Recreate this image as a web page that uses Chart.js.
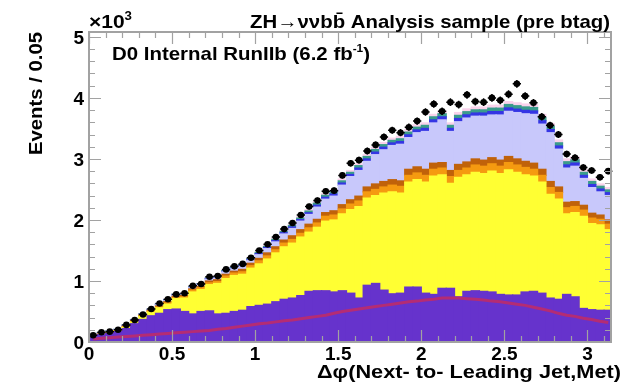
<!DOCTYPE html>
<html>
<head>
<meta charset="utf-8">
<script src="https://cdn.jsdelivr.net/npm/chart.js@4.4.1/dist/chart.umd.min.js"></script>
<style>
  html, body { margin: 0; padding: 0; background: #ffffff; }
  #c { display: block; }
</style>
</head>
<body>
<canvas id="c" width="625" height="384"></canvas>
<script>
// Delta-phi bins (0.05 wide), values in units of 10^3 events per bin
const binCenters = [0.025,0.075,0.125,0.175,0.225,0.275,0.325,0.375,0.425,0.475,
  0.525,0.575,0.625,0.675,0.725,0.775,0.825,0.875,0.925,0.975,
  1.025,1.075,1.125,1.175,1.225,1.275,1.325,1.375,1.425,1.475,
  1.525,1.575,1.625,1.675,1.725,1.775,1.825,1.875,1.925,1.975,
  2.025,2.075,2.125,2.175,2.225,2.275,2.325,2.375,2.425,2.475,
  2.525,2.575,2.625,2.675,2.725,2.775,2.825,2.875,2.925,2.975,
  3.025,3.075,3.125];

const dataObs = [0.11,0.16,0.17,0.20,0.28,0.36,0.45,0.54,0.63,0.70,
  0.78,0.80,0.92,0.95,1.07,1.08,1.19,1.24,1.28,1.38,
  1.50,1.60,1.72,1.85,1.95,2.08,2.22,2.32,2.47,2.48,
  2.73,2.93,2.98,3.13,3.23,3.36,3.47,3.43,3.52,3.62,
  3.77,3.90,3.78,3.93,3.89,4.05,3.94,3.93,4.00,3.96,
  4.06,4.23,4.03,3.92,3.69,3.55,3.40,3.08,3.02,2.86,
  2.81,2.70,2.80];

// stacked backgrounds, bottom to top
const bkgLine = [0.05,0.06,0.07,0.08,0.09,0.10,0.11,0.12,0.13,0.14,
  0.15,0.16,0.17,0.18,0.19,0.21,0.22,0.24,0.26,0.28,
  0.30,0.31,0.33,0.35,0.36,0.38,0.40,0.42,0.44,0.47,
  0.50,0.52,0.54,0.56,0.58,0.60,0.62,0.64,0.66,0.67,
  0.69,0.70,0.72,0.72,0.72,0.71,0.70,0.69,0.67,0.66,
  0.64,0.62,0.60,0.57,0.54,0.51,0.47,0.44,0.42,0.39,
  0.37,0.34,0.32];

const bkgPurple = [0.04,0.06,0.07,0.09,0.13,0.20,0.26,0.31,0.34,0.39,
  0.39,0.34,0.29,0.32,0.32,0.25,0.25,0.26,0.26,0.30,
  0.30,0.31,0.33,0.35,0.36,0.38,0.43,0.42,0.40,0.35,
  0.34,0.28,0.18,0.37,0.38,0.25,0.17,0.16,0.24,0.23,
  0.11,0.08,0.16,0.16,0.02,0.12,0.14,0.14,0.15,0.12,
  0.13,0.15,0.22,0.26,0.26,0.21,0.23,0.34,0.32,0.16,
  0.16,0.18,0.20];

const bkgYellow = [0.00,0.00,0.01,0.01,0.02,0.03,0.05,0.06,0.09,0.09,
  0.17,0.22,0.36,0.36,0.43,0.50,0.57,0.59,0.59,0.63,
  0.68,0.74,0.80,0.86,0.90,0.96,0.97,1.04,1.14,1.18,
  1.26,1.37,1.50,1.43,1.44,1.59,1.67,1.64,1.72,1.76,
  1.82,1.94,1.86,1.72,1.96,1.91,1.94,1.93,1.98,1.98,
  2.05,2.01,1.92,1.89,1.82,1.70,1.64,1.32,1.38,1.51,
  1.41,1.40,1.32];

const bkgOrange = [0.005,0.005,0.005,0.005,0.01,0.01,0.01,0.015,0.015,0.02,
  0.02,0.02,0.03,0.03,0.03,0.03,0.04,0.04,0.04,0.04,
  0.05,0.05,0.05,0.06,0.06,0.06,0.07,0.07,0.08,0.08,
  0.08,0.09,0.09,0.10,0.10,0.10,0.11,0.11,0.11,0.11,
  0.11,0.11,0.11,0.11,0.11,0.11,0.12,0.12,0.12,0.12,
  0.12,0.12,0.12,0.11,0.11,0.11,0.11,0.10,0.10,0.10,
  0.09,0.09,0.09];

const bkgBrown = [0.005,0.005,0.005,0.005,0.01,0.01,0.01,0.015,0.015,0.02,
  0.02,0.02,0.02,0.02,0.03,0.03,0.03,0.03,0.04,0.04,
  0.04,0.05,0.05,0.05,0.06,0.06,0.06,0.06,0.06,0.07,
  0.07,0.07,0.08,0.08,0.09,0.09,0.09,0.09,0.10,0.10,
  0.10,0.10,0.09,0.10,0.10,0.10,0.10,0.10,0.10,0.10,
  0.10,0.10,0.10,0.10,0.10,0.10,0.09,0.09,0.08,0.08,
  0.08,0.07,0.07];

const bkgLavender = [0.01,0.01,0.01,0.01,0.01,0.01,0.01,0.01,0.02,0.02,
  0.02,0.02,0.02,0.03,0.03,0.03,0.04,0.04,0.05,0.05,
  0.06,0.07,0.08,0.10,0.12,0.14,0.16,0.20,0.22,0.24,
  0.32,0.38,0.42,0.42,0.48,0.52,0.56,0.60,0.52,0.56,
  0.62,0.66,0.70,0.64,0.70,0.72,0.70,0.72,0.70,0.74,
  0.74,0.76,0.78,0.80,0.74,0.80,0.62,0.56,0.58,0.44,
  0.42,0.38,0.40];

const bkgBlue = [0.004,0.004,0.004,0.004,0.004,0.004,0.004,0.004,0.007,0.007,
  0.007,0.007,0.007,0.007,0.010,0.010,0.010,0.010,0.014,0.014,
  0.018,0.018,0.021,0.021,0.025,0.025,0.028,0.032,0.032,0.035,
  0.035,0.035,0.040,0.040,0.042,0.042,0.042,0.045,0.045,0.045,
  0.050,0.050,0.050,0.050,0.052,0.052,0.052,0.052,0.056,0.056,
  0.056,0.056,0.056,0.056,0.056,0.052,0.052,0.052,0.052,0.050,
  0.050,0.046,0.046];

const bkgTeal = [0.004,0.004,0.004,0.004,0.004,0.004,0.004,0.004,0.007,0.007,
  0.007,0.007,0.007,0.007,0.010,0.010,0.010,0.010,0.014,0.014,
  0.018,0.018,0.021,0.021,0.025,0.025,0.028,0.032,0.032,0.035,
  0.035,0.035,0.040,0.040,0.042,0.042,0.042,0.045,0.045,0.045,
  0.050,0.050,0.050,0.050,0.052,0.052,0.052,0.052,0.056,0.056,
  0.056,0.056,0.056,0.056,0.056,0.052,0.052,0.052,0.052,0.050,
  0.050,0.046,0.046];

const bkgPink = [0.002,0.002,0.002,0.002,0.002,0.002,0.002,0.002,0.006,0.006,
  0.006,0.006,0.006,0.006,0.010,0.010,0.010,0.010,0.012,0.012,
  0.014,0.014,0.018,0.018,0.020,0.020,0.024,0.026,0.026,0.030,
  0.030,0.030,0.030,0.030,0.036,0.036,0.036,0.040,0.040,0.040,
  0.040,0.040,0.040,0.040,0.046,0.046,0.046,0.046,0.048,0.048,
  0.048,0.048,0.048,0.048,0.048,0.046,0.046,0.046,0.046,0.040,
  0.040,0.038,0.038];

const xTickLabels = [0, 0.5, 1, 1.5, 2, 2.5, 3];
const yTickLabels = [0, 1, 2, 3, 4, 5];
const binWidth = 0.05;

const FONT = '"Liberation Sans", Arial, Helvetica, sans-serif';
const FRAME = '#a2a2a2';

const pts = vals => binCenters.map((x, i) => ({ x: x, y: vals[i] }));

function bars(label, vals, color) {
  return {
    type: 'bar', label: label, data: pts(vals),
    backgroundColor: color, borderWidth: 0, inflateAmount: 0.6,
    barPercentage: 1.0, categoryPercentage: 1.0, order: 3
  };
}

// draw a run of text pieces (main text, superscripts) squeezed to a given width
function drawParts(ctx, parts, x, y, targetWidth, align) {
  let natural = 0;
  parts.forEach(p => {
    ctx.font = 'bold ' + p.size + 'px ' + FONT;
    p.w = ctx.measureText(p.text).width;
    natural += p.w;
  });
  const sx = targetWidth ? targetWidth / natural : 1;
  ctx.save();
  ctx.translate(x, y);
  ctx.scale(sx, 1);
  let cx = align === 'right' ? -natural : (align === 'center' ? -natural / 2 : 0);
  ctx.textAlign = 'left';
  ctx.textBaseline = 'alphabetic';
  ctx.fillStyle = '#000';
  parts.forEach(p => {
    ctx.font = 'bold ' + p.size + 'px ' + FONT;
    ctx.fillText(p.text, cx, -(p.rise || 0));
    cx += p.w;
  });
  ctx.restore();
}

const errorBars = {
  id: 'errorBars',
  beforeDatasetDraw(chart, args) {
    if (chart.data.datasets[args.index].label !== 'Data') return;
    const ctx = chart.ctx, xs = chart.scales.x, ys = chart.scales.y;
    ctx.save();
    ctx.strokeStyle = '#000';
    ctx.lineWidth = 1.5;
    binCenters.forEach((x, i) => {
      const v = dataObs[i];
      const err = Math.sqrt(v * 1000) / 1000;
      const px = xs.getPixelForValue(x), py = ys.getPixelForValue(v);
      ctx.beginPath();
      ctx.moveTo(xs.getPixelForValue(x - binWidth / 2), py);
      ctx.lineTo(xs.getPixelForValue(x + binWidth / 2), py);
      ctx.moveTo(px, ys.getPixelForValue(v - err));
      ctx.lineTo(px, ys.getPixelForValue(v + err));
      ctx.stroke();
    });
    ctx.restore();
  }
};

const frameAndText = {
  id: 'frameAndText',
  afterDraw(chart) {
    const ctx = chart.ctx, a = chart.chartArea;
    const xs = chart.scales.x, ys = chart.scales.y;
    ctx.save();
    // ticks on all four sides
    ctx.strokeStyle = FRAME;
    ctx.lineWidth = 1.2;
    ctx.beginPath();
    for (let j = 0; j <= 31; j++) {
      const px = Math.round(xs.getPixelForValue(j / 10)) + 0.5;
      const len = (j % 5 === 0) ? 12 : 6;
      ctx.moveTo(px, a.bottom); ctx.lineTo(px, a.bottom - len);
      ctx.moveTo(px, a.top); ctx.lineTo(px, a.top + len);
    }
    for (let j = 0; j <= 25; j++) {
      const py = Math.round(ys.getPixelForValue(j / 5)) + 0.5;
      const len = (j % 5 === 0) ? 12 : 6;
      ctx.moveTo(a.left, py); ctx.lineTo(a.left + len, py);
      ctx.moveTo(a.right, py); ctx.lineTo(a.right - len, py);
    }
    ctx.stroke();
    // frame
    ctx.lineWidth = 2;
    ctx.strokeRect(a.left, a.top, a.right - a.left, a.bottom - a.top);

    // tick labels
    ctx.fillStyle = '#000';
    ctx.font = 'bold 19px ' + FONT;
    ctx.textBaseline = 'alphabetic';
    ctx.textAlign = 'center';
    xTickLabels.forEach(v => ctx.fillText(String(v), xs.getPixelForValue(v), 360));
    ctx.textAlign = 'right';
    yTickLabels.forEach(v => ctx.fillText(String(v), 84, ys.getPixelForValue(v) + 7));

    // exponent, titles and labels
    drawParts(ctx, [{ text: '\u00d710', size: 19 }, { text: '3', size: 12, rise: 8 }], 89, 28, 43, 'left');
    drawParts(ctx, [{ text: 'ZH\u2192\u03bd\u03bdbb\u0304 Analysis sample (pre btag)', size: 19 }], 610, 28, 360, 'right');
    drawParts(ctx, [{ text: 'D0 Internal RunIIb (6.2 fb', size: 19 }, { text: '-1', size: 11, rise: 8 }, { text: ')', size: 19 }], 112, 60, 258, 'left');
    drawParts(ctx, [{ text: '\u0394\u03c6(Next- to- Leading Jet,Met)', size: 19 }], 621, 378, 304, 'right');
    ctx.save();
    ctx.translate(42, 155);
    ctx.rotate(-Math.PI / 2);
    drawParts(ctx, [{ text: 'Events / 0.05', size: 19 }], 0, 0, 123, 'left');
    ctx.restore();
    ctx.restore();
  }
};

new Chart(document.getElementById('c'), {
  type: 'bar',
  data: {
    datasets: [
      {
        type: 'line', label: 'Data', data: pts(dataObs), showLine: false,
        pointRadius: 3.3, pointBackgroundColor: '#000', pointBorderWidth: 0,
        stack: 'obs', order: 1
      },
      {
        type: 'line', label: 'Line', data: pts(bkgLine), borderColor: '#b42c74',
        borderWidth: 3, pointRadius: 0, fill: false, stack: 'sig', order: 2
      },
      bars('Bkg1', bkgLine, '#6633cc'),
      bars('Bkg2', bkgPurple, '#6633cc'),
      bars('Bkg3', bkgYellow, '#ffff33'),
      bars('Bkg4', bkgOrange, '#f59a10'),
      bars('Bkg5', bkgBrown, '#c0620a'),
      bars('Bkg6', bkgLavender, '#c8c8fb'),
      bars('Bkg7', bkgBlue, '#3535e4'),
      bars('Bkg8', bkgTeal, '#3a9c8c'),
      bars('Bkg9', bkgPink, '#fad2ec')
    ]
  },
  options: {
    responsive: false,
    devicePixelRatio: 1,
    animation: false,
    events: [],
    layout: { padding: { top: 32, right: 14, left: 0, bottom: 0 } },
    plugins: { legend: { display: false }, tooltip: { enabled: false } },
    scales: {
      x: {
        type: 'linear', min: 0, max: Math.PI, stacked: true, offset: false,
        grid: { display: false }, border: { display: false },
        ticks: { display: false },
        afterFit(s) { s.height = 42; }
      },
      y: {
        type: 'linear', min: 0, max: 5.08, stacked: true,
        grid: { display: false }, border: { display: false },
        ticks: { display: false },
        afterFit(s) { s.width = 89; }
      }
    }
  },
  plugins: [errorBars, frameAndText]
});
</script>
</body>
</html>
